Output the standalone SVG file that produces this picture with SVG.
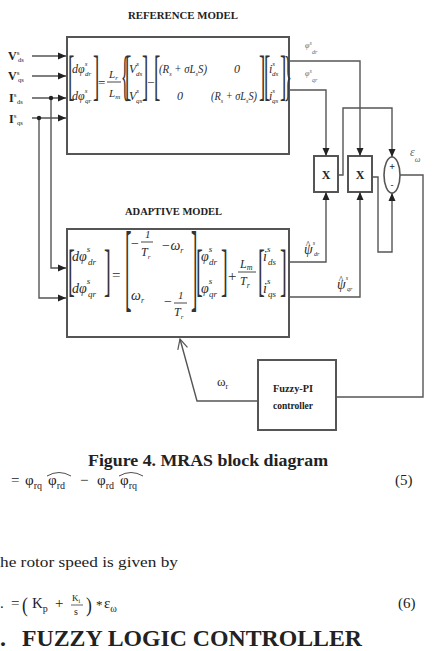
<svg xmlns="http://www.w3.org/2000/svg" width="433" height="651" viewBox="0 0 433 651">
<style>
.t{font-family:"Liberation Serif",serif;fill:#222}
.b{font-weight:bold}
.m{font-family:"Liberation Serif",serif;font-style:italic;fill:#2a2a2a}
.up{font-family:"Liberation Serif",serif;fill:#2a2a2a}
.bb{font-family:"Liberation Serif",serif;fill:#333}
.box{fill:none;stroke:#555;stroke-width:2}
.ln{fill:none;stroke:#555;stroke-width:1.4}
.bar{stroke:#333;stroke-width:0.9}
.g{fill:#666}
</style>
<defs>
<marker id="ah" markerUnits="userSpaceOnUse" markerWidth="8" markerHeight="8" refX="8" refY="4" orient="auto">
<path d="M0,0.5 L8,4 L0,7.5 z" fill="#222"/>
</marker>
<marker id="oa" markerUnits="userSpaceOnUse" markerWidth="12" markerHeight="12" refX="11" refY="6" orient="auto">
<path d="M1,1 L11,6 L1,11" fill="none" stroke="#555" stroke-width="1.2"/>
</marker>
</defs>
<rect width="433" height="651" fill="#fff"/>

<g id="inputs">
<text class="t b" x="8" y="60" font-size="12">V<tspan font-size="7" font-weight="normal" dy="-5">s</tspan><tspan font-size="6.5" font-weight="normal" x="18" dy="7">ds</tspan></text>
<text class="t b" x="8" y="80" font-size="12">V<tspan font-size="7" font-weight="normal" dy="-5">s</tspan><tspan font-size="6.5" font-weight="normal" x="18" dy="7">qs</tspan></text>
<text class="t b" x="9" y="102" font-size="12">I<tspan font-size="7" font-weight="normal" dy="-5">s</tspan><tspan font-size="6.5" font-weight="normal" x="17" dy="7">ds</tspan></text>
<text class="t b" x="9" y="123" font-size="12">I<tspan font-size="7" font-weight="normal" dy="-5">s</tspan><tspan font-size="6.5" font-weight="normal" x="17" dy="7">qs</tspan></text>
</g>

<g id="reference-model">
<text class="t b" x="128" y="19" font-size="11" textLength="110" lengthAdjust="spacingAndGlyphs">REFERENCE  MODEL</text>
<rect class="box" x="67" y="37" width="222" height="117"/>
<text class="bb" transform="translate(68,94) scale(0.35,1)" font-size="54">[</text>
<text class="m" x="72" y="73" font-size="12">dφ<tspan font-size="7" dy="-7">s</tspan><tspan font-size="7" x="85" dy="10">dr</tspan></text>
<text class="m" x="72" y="100" font-size="12">dφ<tspan font-size="7" dy="-7">s</tspan><tspan font-size="7" x="85" dy="10">qr</tspan></text>
<text class="bb" transform="translate(93,94) scale(0.35,1)" font-size="54">]</text>
<text class="up" x="98" y="87" font-size="13">=</text>
<text class="m" x="109" y="78" font-size="11">L<tspan font-size="7" dy="2">r</tspan></text>
<line class="bar" x1="107" y1="82" x2="121" y2="82"/>
<text class="m" x="109" y="97" font-size="11">L<tspan font-size="7" dy="2">m</tspan></text>
<text class="bb" transform="translate(121,94) scale(0.3,1)" font-size="54">{</text>
<text class="bb" transform="translate(125,94) scale(0.35,1)" font-size="54">[</text>
<text class="m" x="129" y="73" font-size="12">V<tspan font-size="7" dy="-7">s</tspan><tspan font-size="7" x="136" dy="10">ds</tspan></text>
<text class="m" x="129" y="100" font-size="12">V<tspan font-size="7" dy="-7">s</tspan><tspan font-size="7" x="136" dy="10">qs</tspan></text>
<text class="bb" transform="translate(142,94) scale(0.35,1)" font-size="54">]</text>
<text class="up" x="147" y="87" font-size="13">−</text>
<text class="bb" transform="translate(154,94) scale(0.35,1)" font-size="54">[</text>
<text class="m" x="159" y="73" font-size="12" textLength="48" lengthAdjust="spacingAndGlyphs">(R<tspan font-size="7" dy="3">s</tspan><tspan dy="-3"> + σL</tspan><tspan font-size="7" dy="3">s</tspan><tspan dy="-3">S)</tspan></text>
<text class="m" x="234" y="73" font-size="12">0</text>
<text class="m" x="177" y="100" font-size="12">0</text>
<text class="m" x="211" y="100" font-size="12" textLength="46" lengthAdjust="spacingAndGlyphs">(R<tspan font-size="7" dy="3">s</tspan><tspan dy="-3"> + σL</tspan><tspan font-size="7" dy="3">s</tspan><tspan dy="-3">S)</tspan></text>
<text class="bb" transform="translate(259,94) scale(0.35,1)" font-size="54">]</text>
<text class="bb" transform="translate(264,94) scale(0.35,1)" font-size="54">[</text>
<text class="m" x="269" y="73" font-size="12">i<tspan font-size="7" dy="-7">s</tspan><tspan font-size="7" x="272" dy="10">ds</tspan></text>
<text class="m" x="269" y="100" font-size="12">i<tspan font-size="7" dy="-7">s</tspan><tspan font-size="7" x="272" dy="10">qs</tspan></text>
<text class="bb" transform="translate(280,94) scale(0.35,1)" font-size="54">]</text>
<text class="bb" transform="translate(284,94) scale(0.3,1)" font-size="54">}</text>
</g>

<g id="adaptive-model">
<text class="t b" x="125" y="215" font-size="11" textLength="97" lengthAdjust="spacingAndGlyphs">ADAPTIVE MODEL</text>
<rect class="box" x="67" y="229" width="222" height="108"/>
<text class="bb" transform="translate(68,289) scale(0.35,1)" font-size="58">[</text>
<text class="m" x="72" y="261" font-size="14">dφ<tspan font-size="9" dy="-9">s</tspan><tspan font-size="9" x="88" dy="13">dr</tspan></text>
<text class="m" x="72" y="293" font-size="14">dφ<tspan font-size="9" dy="-9">s</tspan><tspan font-size="9" x="88" dy="13">qr</tspan></text>
<text class="bb" transform="translate(104,289) scale(0.35,1)" font-size="58">]</text>
<text class="up" x="112" y="280" font-size="15">=</text>
<text class="bb" transform="translate(125,299) scale(0.2,1)" font-size="97">[</text>
<text class="up" x="131" y="248" font-size="14">−</text>
<text class="m" x="145" y="238" font-size="11">1</text>
<line class="bar" x1="141" y1="242" x2="153" y2="242"/>
<text class="m" x="141" y="256" font-size="12">T<tspan font-size="7" dy="3">r</tspan></text>
<text class="m" x="161" y="250" font-size="14">−ω<tspan font-size="8" dy="3">r</tspan></text>
<text class="m" x="131" y="300" font-size="14">ω<tspan font-size="8" dy="3">r</tspan></text>
<text class="up" x="164" y="306" font-size="14">−</text>
<text class="m" x="178" y="299" font-size="11">1</text>
<line class="bar" x1="174" y1="303" x2="187" y2="303"/>
<text class="m" x="174" y="316" font-size="12">T<tspan font-size="7" dy="3">r</tspan></text>
<text class="bb" transform="translate(191,299) scale(0.2,1)" font-size="97">]</text>
<text class="bb" transform="translate(196,289) scale(0.35,1)" font-size="58">[</text>
<text class="m" x="201" y="261" font-size="14">φ<tspan font-size="9" dy="-9">s</tspan><tspan font-size="9" x="209" dy="13">dr</tspan></text>
<text class="m" x="201" y="293" font-size="14">φ<tspan font-size="9" dy="-9">s</tspan><tspan font-size="9" x="209" dy="13">qr</tspan></text>
<text class="bb" transform="translate(221,289) scale(0.35,1)" font-size="58">]</text>
<text class="up" x="228" y="281" font-size="15">+</text>
<text class="m" x="240" y="268" font-size="12">L<tspan font-size="8" dy="2">m</tspan></text>
<line class="bar" x1="238" y1="272" x2="256" y2="272"/>
<text class="m" x="240" y="285" font-size="12">T<tspan font-size="8" dy="3">r</tspan></text>
<text class="bb" transform="translate(258,289) scale(0.35,1)" font-size="58">[</text>
<text class="m" x="263" y="261" font-size="14">i<tspan font-size="9" dy="-9">s</tspan><tspan font-size="9" x="268" dy="13">ds</tspan></text>
<text class="m" x="263" y="293" font-size="14">i<tspan font-size="9" dy="-9">s</tspan><tspan font-size="9" x="268" dy="13">qs</tspan></text>
<text class="bb" transform="translate(280,289) scale(0.35,1)" font-size="58">]</text>
</g>

<g id="mult1">
<rect class="box" x="314" y="156" width="24" height="36" stroke-width="1.6"/>
<text class="t b" x="326" y="179" font-size="12" text-anchor="middle">X</text>
</g>
<g id="mult2">
<rect class="box" x="348" y="156" width="24" height="36" stroke-width="1.6"/>
<text class="t b" x="360" y="179" font-size="12" text-anchor="middle">X</text>
</g>
<g id="sum">
<ellipse cx="392" cy="175" rx="8" ry="18" fill="none" stroke="#555" stroke-width="1.6"/>
<text class="t b" x="392" y="170" font-size="10" text-anchor="middle">+</text>
<text class="t b" x="392" y="188" font-size="9" text-anchor="middle">-</text>
</g>
<g id="fuzzy-pi">
<rect class="box" x="258" y="360" width="78" height="70" stroke-width="1.6"/>
<text class="t b" x="273" y="392" font-size="10" textLength="40" lengthAdjust="spacingAndGlyphs">Fuzzy-PI</text>
<text class="t b" x="273" y="409" font-size="10" textLength="40" lengthAdjust="spacingAndGlyphs">controller</text>
</g>

<g id="connectors">
<path class="ln" d="M32,56 H66" marker-end="url(#ah)"/>
<path class="ln" d="M32,76 H66" marker-end="url(#ah)"/>
<path class="ln" d="M32,98 H66" marker-end="url(#ah)"/>
<path class="ln" d="M32,118 H66" marker-end="url(#ah)"/>
<path class="ln" d="M51,98 V268 H66" marker-end="url(#ah)"/>
<path class="ln" d="M39,118 V298 H66" marker-end="url(#ah)"/>
<circle cx="51" cy="98" r="2.2" fill="#222"/>
<circle cx="39" cy="118" r="2.2" fill="#222"/>
<path class="ln" d="M289,61 H360 V156" marker-end="url(#ah)"/>
<path class="ln" d="M289,90 H326 V156" marker-end="url(#ah)"/>
<path class="ln" d="M338,175 H343 V108 H392 V157" marker-end="url(#ah)"/>
<path class="ln" d="M372,177 H378 V252 H392 V193" marker-end="url(#ah)"/>
<path class="ln" d="M289,262 H326 V192" marker-end="url(#ah)"/>
<path class="ln" d="M289,297 H360 V192" marker-end="url(#ah)"/>
<path class="ln" d="M400,175 H423 V397 H336"/>
<path class="ln" d="M258,401 H197 L180,339" marker-end="url(#oa)"/>
<text class="m g" x="305" y="48" font-size="8">φ<tspan font-size="6" dy="-3">s</tspan><tspan font-size="6" x="312" dy="9">dr</tspan></text>
<text class="m g" x="305" y="76" font-size="8">φ<tspan font-size="6" dy="-3">s</tspan><tspan font-size="6" x="312" dy="9">qr</tspan></text>
<text class="m" x="304" y="254" font-size="14">ψ<tspan font-size="6" dy="-9">s</tspan><tspan font-size="6" x="314" dy="11">dr</tspan><tspan font-size="10" x="305.5" dy="-8">^</tspan></text>
<text class="m" x="337" y="289" font-size="14">ψ<tspan font-size="6" dy="-9">s</tspan><tspan font-size="6" x="347" dy="11">qr</tspan><tspan font-size="10" x="338.5" dy="-8">^</tspan></text>
<text class="m g" x="410" y="156" font-size="12">ε<tspan font-size="8" dy="6">ω</tspan></text>
<text class="up" x="217" y="386" font-size="13">ω<tspan font-size="8" dy="3">r</tspan></text>
</g>

<g id="text-below">
<text class="t b" x="88" y="466" font-size="16" textLength="240" lengthAdjust="spacingAndGlyphs">Figure 4. MRAS block diagram</text>
<text class="t" x="11" y="485" font-size="15">=</text>
<text class="t" x="25" y="485" font-size="15">φ<tspan font-size="10" dy="4">rq</tspan></text>
<text class="t" x="48" y="485" font-size="15">φ<tspan font-size="10" dy="4">rd</tspan></text>
<path d="M47,476 Q59,469 71,476" fill="none" stroke="#222" stroke-width="0.8"/>
<text class="t" x="80" y="485" font-size="15">−</text>
<text class="t" x="97" y="485" font-size="15">φ<tspan font-size="10" dy="4">rd</tspan></text>
<text class="t" x="120" y="485" font-size="15">φ<tspan font-size="10" dy="4">rq</tspan></text>
<path d="M119,476 Q131,469 143,476" fill="none" stroke="#222" stroke-width="0.8"/>
<text class="t" x="395" y="485" font-size="15">(5)</text>
<text class="t" x="0" y="567" font-size="15" textLength="178" lengthAdjust="spacingAndGlyphs">he rotor speed is given by</text>
<text class="t" x="0" y="608" font-size="15">.</text>
<text class="t" x="11" y="608" font-size="15">=</text>
<text class="t" transform="translate(22,612) scale(0.8,1)" font-size="22">(</text>
<text class="t" x="32" y="608" font-size="15">K<tspan font-size="10" dy="4">p</tspan></text>
<text class="t" x="55" y="608" font-size="15">+</text>
<text class="t" x="72" y="601" font-size="9">K<tspan font-size="6" dy="2">i</tspan></text>
<line x1="71" y1="605" x2="83" y2="605" stroke="#222" stroke-width="0.7"/>
<text class="t" x="74" y="615" font-size="10">s</text>
<text class="t" transform="translate(86,612) scale(0.8,1)" font-size="22">)</text>
<text class="t" x="96" y="609" font-size="13">*</text>
<text class="t" x="104" y="608" font-size="15">ε<tspan font-size="10" dy="4">ω</tspan></text>
<text class="t" x="398" y="608" font-size="15">(6)</text>
<text class="t b" x="0" y="646" font-size="24">.</text>
<text class="t b" x="22" y="646" font-size="24" textLength="340" lengthAdjust="spacingAndGlyphs">FUZZY LOGIC CONTROLLER</text>
</g>
</svg>
